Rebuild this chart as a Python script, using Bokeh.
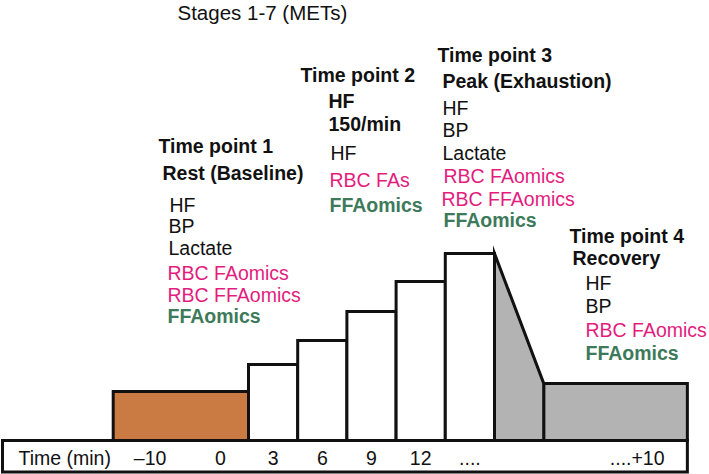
from bokeh.plotting import figure
from bokeh.models import Range1d, ColumnDataSource
from bokeh.core.properties import value, field
from bokeh.embed import file_html
from bokeh.resources import INLINE

# ---------------- data ----------------
# schematic exercise protocol: x in "stage slots", y in relative intensity
phase_names = ["Rest", "Stage 1", "Stage 2", "Stage 3", "Stage 4", "Stage 5", "Recovery"]
phase_start = [-2.75, 0, 1, 2, 3, 4, 6]
phase_end = [0, 1, 2, 3, 4, 5, 8.92]
intensity = [1.75, 2.71, 3.57, 4.61, 5.68, 6.68, 2.04]

time_title = "Time (min)"
time_labels = ["\u201310", "0", "3", "6", "9", "12", "....", "....+10"]
time_slots = [-2.0, -0.57, 0.5, 1.5, 2.5, 3.5, 4.5, 7.9]
axis_start = -5.0

# ---------------- styles ----------------
ORANGE = "#C97B43"
GRAY = "#B3B3B3"
PINK = "#E31C7E"
GREEN = "#3D7A5B"
BLACK = "#111111"
FONT = "Liberation Sans"

# layout helpers (reference-pixel -> schematic units) for annotations
U0, UW, V0, VH = 248.0, 49.2, 440.0, 28.0
TEXT_DY = 8.0  # renderer places alphabetic baseline lower; compensate
def ux(px):
    return (px - U0) / UW
def vy(py):
    return (V0 - py) / VH
def ty(py):
    return vy(py - TEXT_DY)

W, H = 709, 474
p = figure(width=W, height=H, output_backend="svg", toolbar_location=None,
           x_range=Range1d(ux(0), ux(W)), y_range=Range1d(vy(H), vy(0)),
           min_border=0, outline_line_color=None)
p.axis.visible = False
p.grid.visible = False
p.background_fill_color = "white"
p.border_fill_color = "white"

# time strip box
p.quad(left=[axis_start], right=[phase_end[-1]], bottom=[vy(471.5)], top=[0],
       fill_color="white", line_color=BLACK, line_width=3, line_join="miter")

# bars
fills = [ORANGE] + ["white"] * 5 + [GRAY]
src = ColumnDataSource(dict(left=phase_start, right=phase_end,
                            top=intensity, bottom=[0] * len(intensity), fill=fills))
p.quad(left="left", right="right", top="top", bottom="bottom", fill_color="fill",
       line_color=BLACK, line_width=3, line_join="miter", source=src)

# drop from peak to recovery
peak_end = phase_end[5]
rec_start = phase_start[6]
p.patch(x=[peak_end, peak_end, rec_start, rec_start],
        y=[0, intensity[5], intensity[6], 0],
        fill_color=GRAY, line_color=BLACK, line_width=3, line_join="miter")

# time labels
p.text(x=[ux(18)], y=[ty(465)], text=[time_title], text_font=value(FONT),
       text_font_size="19.5px", text_color=BLACK, text_baseline="alphabetic", text_align="left")
p.text(x=time_slots, y=[ty(465)] * len(time_slots), text=time_labels, text_font=value(FONT),
       text_font_size="19.5px", text_color=BLACK, text_baseline="alphabetic", text_align="center")

# annotations: (x_px, baseline_px, text, color, style)
N, B = "normal", "bold"
ann = [
    (158, 153, "Time point 1", BLACK, B),
    (162, 180, "Rest (Baseline)", BLACK, B),
    (169, 212, "HF", BLACK, N),
    (168, 233, "BP", BLACK, N),
    (168, 255, "Lactate", BLACK, N),
    (167, 280, "RBC FAomics", PINK, N),
    (167, 302, "RBC FFAomics", PINK, N),
    (167, 323, "FFAomics", GREEN, B),
    (300, 82, "Time point 2", BLACK, B),
    (328, 108, "HF", BLACK, B),
    (328, 131, "150/min", BLACK, B),
    (330, 160, "HF", BLACK, N),
    (329, 187, "RBC FAs", PINK, N),
    (329, 212, "FFAomics", GREEN, B),
    (437, 62, "Time point 3", BLACK, B),
    (442, 88, "Peak (Exhaustion)", BLACK, B),
    (442, 115, "HF", BLACK, N),
    (442, 137, "BP", BLACK, N),
    (442, 160, "Lactate", BLACK, N),
    (443, 183, "RBC FAomics", PINK, N),
    (441, 206, "RBC FFAomics", PINK, N),
    (443, 227, "FFAomics", GREEN, B),
    (569, 243, "Time point 4", BLACK, B),
    (572, 265, "Recovery", BLACK, B),
    (585, 290, "HF", BLACK, N),
    (585, 313, "BP", BLACK, N),
    (585, 337, "RBC FAomics", PINK, N),
    (585, 360, "FFAomics", GREEN, B),
]
asrc = ColumnDataSource(dict(
    x=[ux(a[0]) for a in ann], y=[ty(a[1]) for a in ann], text=[a[2] for a in ann],
    color=[a[3] for a in ann], style=[a[4] for a in ann]))
p.text(x="x", y="y", text="text", text_color=field("color"), text_font_style=field("style"),
       text_font=value(FONT), text_font_size="19.5px", text_baseline="alphabetic",
       text_align="left", source=asrc)

p.text(x=[ux(177)], y=[ty(20)], text=["Stages 1-7 (METs)"], text_font=value(FONT),
       text_font_size="20.5px", text_color=BLACK, text_baseline="alphabetic", text_align="left")

open("out.html", "w").write(file_html(p, INLINE))
